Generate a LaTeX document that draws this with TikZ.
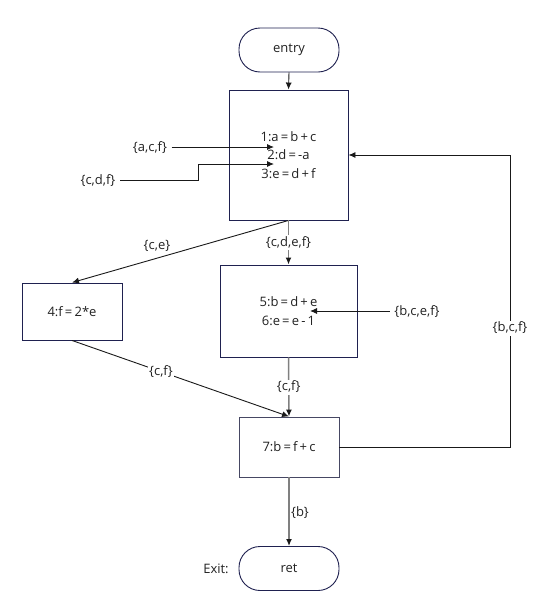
\documentclass[tikz,border=0pt]{standalone}
\usepackage{fontspec}
\setmainfont{Open Sans}
\usetikzlibrary{arrows.meta}
\definecolor{navy}{HTML}{1F2150}
\definecolor{txt}{HTML}{222222}
\begin{document}
\begin{tikzpicture}[x=1pt,y=-1pt,
  font=\fontsize{13}{18.5}\selectfont, text=txt,
  term/.style={draw=navy, line width=0.9pt, rounded corners=21pt, minimum width=100pt, minimum height=44pt, inner sep=0pt},
  blk/.style={draw=navy, line width=0.9pt, align=center, inner sep=0pt},
  lab/.style={inner sep=1.5pt, fill=white},
  flabel/.style={inner sep=1.5pt},
  edge/.style={draw=black!90, line width=0.9pt, -{Latex[length=7pt,width=6pt]}},
  gedge/.style={draw=black!50, line width=1.5pt, -{Latex[length=7pt,width=6pt,color=black!90,fill=black!90]}}
]
\useasboundingbox (0,0) rectangle (553,600);
\fill[white] (0,0) rectangle (553,600);

\node[term] (entry) at (289,50) {entry};
\node[blk, minimum width=119pt, minimum height=130pt] (b1) at (288.5,155) {1:a\,=\,b\,+\,c\\2:d\,=\,-a\\3:e\,=\,d\,+\,f};
\node[blk, minimum width=100pt, minimum height=57pt] (b4) at (72,311.5) {4:f\,=\,2*e};
\node[blk, minimum width=137pt, minimum height=92pt] (b5) at (288.5,311) {5:b\,=\,d\,+\,e\\6:e\,=\,e\,-\,1};
\node[blk, draw=navy!60!gray, minimum width=100pt, minimum height=60pt] (b7) at (289,447) {7:b\,=\,f\,+\,c};
\node[term] (ret) at (289,568.5) {ret};
\node[flabel] (exit) at (216,569) {Exit:};

% inputs to block 1
\node[flabel] (acf) at (150,148) {\{a,c,f\}};
\coordinate (acfend) at (274,147);
\draw[edge] (acf.east) ++(3,-1) coordinate (acfs) (acfs) -- (acfend);
\node[flabel] (cdf) at (98,181) {\{c,d,f\}};
\coordinate (cdfend) at (274,164);
\draw[edge] (cdf.east) ++(3,-1) coordinate (cdfs) (cdfs) -- (198,180) -- (198,164) -- (cdfend);

% input to block 5
\node[flabel] (bcef) at (417,312) {\{b,c,e,f\}};
\coordinate (bcefend) at (310,311);
\draw[edge] (bcef.west) ++(-3,-1) coordinate (bcefs) (bcefs) -- (bcefend);

% main edges
\draw[edge] (entry.south) -- (b1.north);
\draw[edge] (b1.south) -- (b4.north);
\node[flabel] (lce) at (157,246) {\{c,e\}};
\draw[gedge] (b1.south) -- (b5.north) node[lab, midway] (lcdef) {\{c,d,e,f\}};
\draw[gedge] (b5.south) -- (b7.north) node[lab, midway] (lcf1) {\{c,f\}};
\draw[edge] (b4.south) -- (b7.north) node[lab, pos=0.41] (lcf2) {\{c,f\}};
\draw[gedge] (b7.south) -- (ret.north);
\node[flabel] (lb) at (300,513) {\{b\}};

% loop back
\coordinate (lp1) at (510,447);
\coordinate (lp2) at (510,155);
\draw[edge] (b7.east) -- (lp1) -- (lp2) -- (b1.east |- lp2);
\node[lab] (lbcf) at (510,328) {\{b,c,f\}};
\end{tikzpicture}
\end{document}
